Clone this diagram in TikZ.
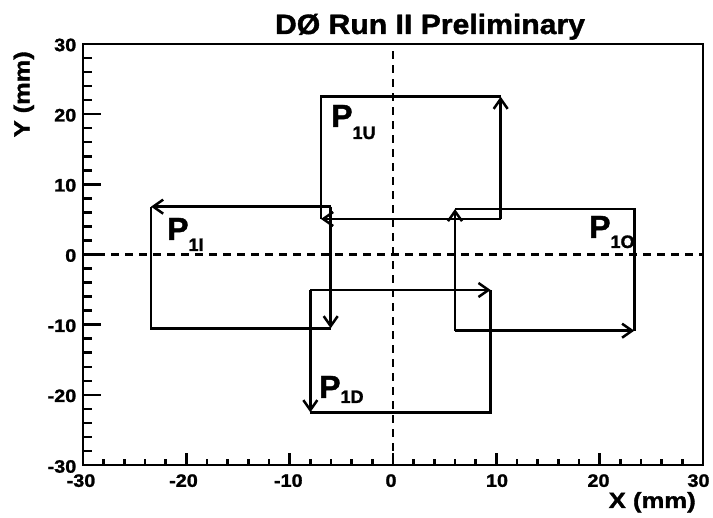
\documentclass[tikz,border=0pt]{standalone}
\usepackage{fontspec}
\setmainfont{Liberation Sans}[BoldFeatures={FakeBold=1.3}]
\usepackage{graphicx}
\usetikzlibrary{arrows.meta}
\newcommand\ticklab[1]{\scalebox{1.1}[1]{#1}}
\newcommand\plab[3]{{\fontsize{32}{32}\selectfont P}\raisebox{-#3}{\fontsize{18}{18}\selectfont #1}}
\begin{document}
\begin{tikzpicture}[x=1pt,y=-1pt,line width=2.5pt,
  ylab/.style={anchor=east,inner sep=0pt,font=\bfseries\fontsize{18}{18}\selectfont},
  xlab/.style={anchor=north,inner sep=0pt,font=\bfseries\fontsize{18}{18}\selectfont},
  plabel/.style={anchor=base west,inner sep=0pt,font=\bfseries},
  arr/.style={-{Straight Barb[length=10pt,width=14pt]}},
  dashline/.style={dash pattern=on 8pt off 6pt},
  rectline/.style={line join=miter}]
\fill[white] (0,0) rectangle (713,518);
\useasboundingbox (0,0) rectangle (713,518);
% title and axis titles
\node[anchor=base,inner sep=0pt] (title) at (430,34)
  {\resizebox{310pt}{\height}{\bfseries\fontsize{28}{28}\selectfont DØ Run II Preliminary}};
\node[anchor=base east,rotate=90,inner sep=0pt] (ytitle) at (29.5,50)
  {\resizebox{86pt}{\height}{\bfseries\fontsize{22}{22}\selectfont Y (mm)}};
\node[anchor=base east,inner sep=0pt] (xtitle) at (697,508)
  {\resizebox{87pt}{\height}{\bfseries\fontsize{22}{22}\selectfont X (mm)}};
% tick labels
\node[ylab] (y30) at (77.5,45) {\ticklab{30}};
\node[ylab] (y20) at (77.5,115.2) {\ticklab{20}};
\node[ylab] (y10) at (77.5,185.3) {\ticklab{10}};
\node[ylab] (y0) at (77.5,255.5) {\ticklab{0}};
\node[ylab] (ym10) at (77.5,325.7) {\ticklab{-10}};
\node[ylab] (ym20) at (77.5,395.8) {\ticklab{-20}};
\node[ylab] (ym30) at (77.5,466.5) {\ticklab{-30}};
\node[xlab] (xm30) at (81,473) {\ticklab{-30}};
\node[xlab] (xm20) at (183.5,473) {\ticklab{-20}};
\node[xlab] (xm10) at (288.3,473) {\ticklab{-10}};
\node[xlab] (x0) at (391,473) {\ticklab{0}};
\node[xlab] (x10) at (497,473) {\ticklab{10}};
\node[xlab] (x20) at (598.5,473) {\ticklab{20}};
\node[xlab] (x30) at (698.5,473) {\ticklab{30}};
% labels of the scans
\node[plabel] (pu) at (330,127) {\plab{1U}{}{12pt}};
\node[plabel] (pi) at (166,240) {\plab{1I}{}{11pt}};
\node[plabel] (po) at (588,238) {\plab{1O}{}{10pt}};
\node[plabel] (pd) at (318,398) {\plab{1D}{}{5pt}};
\begin{scope}[shift={(393pt,-254.5pt)},x=10.333pt,y=7.0167pt]
  % ticks
  \foreach \v in {-30,-20,...,30} \draw (-30,\v) -- ++(18pt,0);
  \foreach \v in {-28,-26,...,28} \draw (-30,\v) -- ++(9pt,0);
  \foreach \v in {-30,-20,...,30} \draw (\v,-30) -- ++(0,12pt);
  \foreach \v in {-28,-26,...,28} \draw (\v,-30) -- ++(0,6pt);
  % frame
  \coordinate (fbl) at (-30,-30);
  \coordinate (ftr) at (30,30);
  \draw[rectline] (fbl) rectangle (ftr);
  % dashed axes
  \coordinate (hl) at (-30,0); \coordinate (hr) at (30,0);
  \coordinate (vb) at (0,-30); \coordinate (vt) at (0,30);
  \draw[dashline] (hl) -- (hr);
  \draw[dashline] (vb) -- (vt);
  % P1I
  \coordinate (itl) at (-23.42,6.82); \coordinate (itr) at (-6.03,6.82);
  \coordinate (ibl) at (-23.42,-10.52); \coordinate (ibr) at (-6.03,-10.52);
  \draw[rectline] (itl) -- (ibl) -- (ibr);
  \draw[arr] (itr) -- (itl);
  \draw[arr] (itr) -- (ibr);
  % P1U
  \coordinate (utl) at (-6.97,22.49); \coordinate (utr) at (10.42,22.49);
  \coordinate (ubl) at (-6.97,5.06); \coordinate (ubr) at (10.42,5.06);
  \draw[rectline] (ubl) -- (utl) -- (utr);
  \draw[arr] (ubr) -- (ubl);
  \draw[arr] (ubr) -- (utr);
  % P1O
  \coordinate (otl) at (6.0,6.48); \coordinate (otr) at (23.35,6.48);
  \coordinate (obl) at (6.0,-10.86); \coordinate (obr) at (23.35,-10.86);
  \draw[rectline] (otl) -- (otr) -- (obr);
  \draw[arr] (obl) -- (otl);
  \draw[arr] (obl) -- (obr);
  % P1D
  \coordinate (dtl) at (-8.0,-5.06); \coordinate (dtr) at (9.45,-5.06);
  \coordinate (dbl) at (-8.0,-22.49); \coordinate (dbr) at (9.45,-22.49);
  \draw[rectline] (dbl) -- (dbr) -- (dtr);
  \draw[arr] (dtl) -- (dtr);
  \draw[arr] (dtl) -- (dbl);
\end{scope}
\end{tikzpicture}
\end{document}
